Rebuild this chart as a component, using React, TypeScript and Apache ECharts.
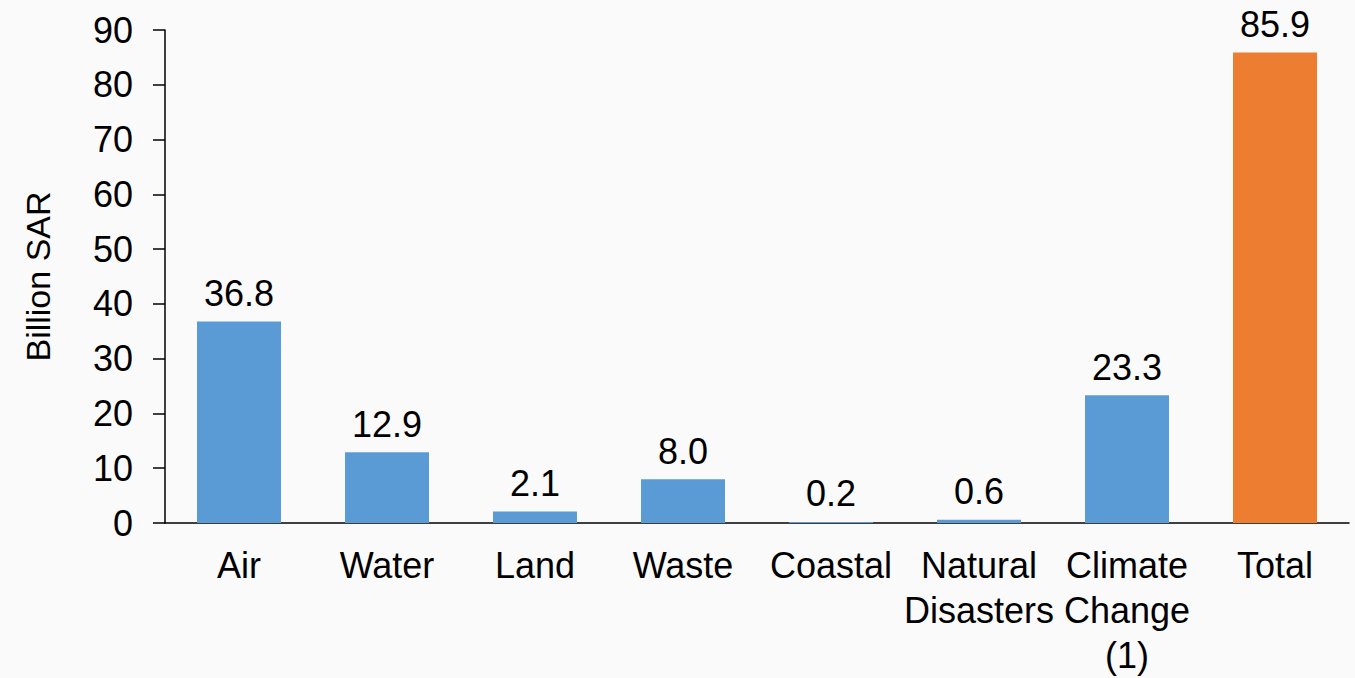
import React, { useEffect, useRef } from "react";
import * as echarts from "echarts";

const categories = ["Air", "Water", "Land", "Waste", "Coastal", "Natural\nDisasters", "Climate\nChange\n(1)", "Total"];
const values = [36.8, 12.9, 2.1, 8.0, 0.2, 0.6, 23.3, 85.9];
const barColors = ["#5B9BD5", "#5B9BD5", "#5B9BD5", "#5B9BD5", "#5B9BD5", "#5B9BD5", "#5B9BD5", "#ED7D31"];
const yTicks = { min: 0, max: 90, interval: 10 };
const yName = "Billion SAR";

export default function App() {
  const ref = useRef<HTMLDivElement>(null);
  useEffect(() => {
    document.body.style.margin = "0";
    if (!ref.current) return;
    const chart = echarts.init(ref.current, undefined, { renderer: "svg" });
    const font = "Liberation Sans, Arial, sans-serif";
    chart.setOption({
      animation: false,
      backgroundColor: "#fafafa",
      textStyle: { fontFamily: font },
      grid: { left: 165, right: 6, top: 30, bottom: 152 },
      xAxis: {
        type: "category",
        data: categories,
        axisLine: { lineStyle: { color: "#000", width: 1.5 } },
        axisTick: { show: false },
        axisLabel: { color: "#000", fontSize: 36, fontFamily: font, lineHeight: 45, margin: 20, interval: 0 },
      },
      yAxis: {
        type: "value",
        min: yTicks.min,
        max: yTicks.max,
        interval: yTicks.interval,
        name: yName,
        nameLocation: "middle",
        nameGap: 110,
        nameTextStyle: { color: "#000", fontSize: 34, fontFamily: font },
        axisLine: { show: true, lineStyle: { color: "#000", width: 1.5 } },
        axisTick: { show: true, length: 12, lineStyle: { color: "#000", width: 1.5 } },
        splitLine: { show: false },
        axisLabel: { color: "#000", fontSize: 36, fontFamily: font, margin: 32 },
      },
      series: [
        {
          type: "bar",
          data: values.map((v, i) => ({ value: v, itemStyle: { color: barColors[i] } })),
          barWidth: 84,
          label: {
            show: true,
            position: "top",
            distance: 10,
            color: "#000",
            fontSize: 36,
            fontFamily: font,
            formatter: (p: any) => Number(p.value).toFixed(1),
          },
        },
      ],
    });
    return () => chart.dispose();
  }, []);
  return <div ref={ref} style={{ width: 1355, height: 678 }} />;
}
